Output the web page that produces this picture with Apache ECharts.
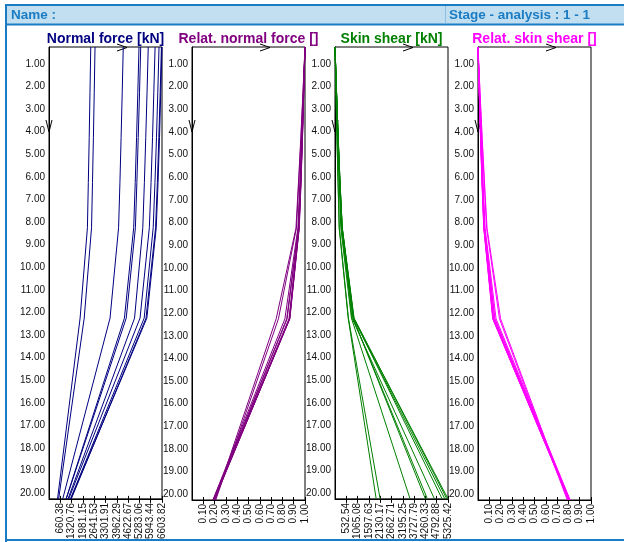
<!DOCTYPE html>
<html>
<head>
<meta charset="utf-8">
<script src="https://cdn.jsdelivr.net/npm/echarts@6/dist/echarts.min.js"></script>
<style>
html, body { margin: 0; padding: 0; background: #fff; }
#chart { width: 624px; height: 542px; }
</style>
</head>
<body>
<div id="chart"></div>
<script>
// Depth nodes along the piles [m]
const depths = [0.25, 2.25, 4.25, 6.25, 8.25, 12.25, 20.25];
const depthLabels = [1, 2, 3, 4, 5, 6, 7, 8, 9, 10, 11, 12, 13, 14, 15, 16, 17, 18, 19, 20];

// Normal force per pile [kN]
const normalForce = [
  [2440, 2396, 2350, 2298, 2245, 1818, 500],
  [2690, 2644, 2596, 2542, 2486, 2058, 565],
  [4340, 4279, 4214, 4145, 4067, 3567, 803],
  [5260, 5192, 5118, 5039, 4950, 4408, 999],
  [5360, 5290, 5215, 5135, 5049, 4513, 1008],
  [5800, 5730, 5655, 5574, 5481, 5000, 1114],
  [6200, 6126, 6051, 5964, 5865, 5320, 1153],
  [6430, 6359, 6282, 6192, 6089, 5562, 1254],
  [6570, 6498, 6419, 6333, 6228, 5670, 1301],
  [6603.82, 6531, 6459, 6373, 6267, 5719, 1278]
];

// Relative normal force per pile []
const relNormalForce = [
  [1, 0.982, 0.963, 0.942, 0.920, 0.745, 0.205],
  [1, 0.983, 0.965, 0.945, 0.924, 0.765, 0.210],
  [1, 0.986, 0.971, 0.955, 0.937, 0.822, 0.185],
  [1, 0.987, 0.973, 0.958, 0.941, 0.838, 0.190],
  [1, 0.987, 0.973, 0.958, 0.942, 0.842, 0.188],
  [1, 0.988, 0.975, 0.961, 0.945, 0.862, 0.192],
  [1, 0.988, 0.976, 0.962, 0.946, 0.858, 0.186],
  [1, 0.989, 0.977, 0.963, 0.947, 0.865, 0.195],
  [1, 0.989, 0.977, 0.964, 0.948, 0.863, 0.198],
  [1, 0.989, 0.978, 0.965, 0.949, 0.866, 0.194]
];

// Skin shear per pile [kN]
const skinShear = [
  [0, 44, 90, 142, 195, 622, 1940],
  [0, 46, 94, 148, 204, 632, 2125],
  [0, 61, 126, 195, 273, 773, 3537],
  [0, 68, 142, 221, 310, 852, 4261],
  [0, 70, 145, 225, 311, 847, 4352],
  [0, 70, 145, 226, 319, 800, 4686],
  [0, 74, 149, 236, 335, 880, 5047],
  [0, 71, 148, 238, 341, 868, 5176],
  [0, 72, 151, 237, 342, 900, 5269],
  [0, 73, 145, 231, 337, 885, 5325.42]
];

// Relative skin shear per pile []
const relSkinShear = [
  [0, 0.018, 0.037, 0.058, 0.080, 0.200, 0.795],
  [0, 0.017, 0.035, 0.055, 0.076, 0.190, 0.790],
  [0, 0.014, 0.029, 0.045, 0.063, 0.160, 0.815],
  [0, 0.013, 0.027, 0.042, 0.059, 0.150, 0.810],
  [0, 0.013, 0.027, 0.042, 0.058, 0.148, 0.812],
  [0, 0.012, 0.025, 0.039, 0.055, 0.135, 0.808],
  [0, 0.012, 0.024, 0.038, 0.054, 0.140, 0.814],
  [0, 0.011, 0.023, 0.037, 0.053, 0.132, 0.805],
  [0, 0.011, 0.023, 0.036, 0.052, 0.134, 0.802],
  [0, 0.011, 0.022, 0.035, 0.051, 0.130, 0.806]
];

// Bottom axis tick labels
const normalForceTicks = [660.38, 1320.76, 1981.15, 2641.53, 3301.91, 3962.29, 4622.67, 5283.06, 5943.44, 6603.82];
const relativeTicks = [0.10, 0.20, 0.30, 0.40, 0.50, 0.60, 0.70, 0.80, 0.90, 1.00];
const skinShearTicks = [532.54, 1065.08, 1597.63, 2130.17, 2662.71, 3195.25, 3727.79, 4260.33, 4792.88, 5325.42];

const panelTitles = ['Normal force [kN]', 'Relat. normal force []', 'Skin shear [kN]', 'Relat. skin shear []'];
const headerLeft = 'Name :';
const headerRight = 'Stage - analysis : 1 - 1';

// ---- layout ----
const FONT = '"Liberation Sans", Arial, sans-serif';
const panelLeft = [49, 192, 335, 478];
const panelWidth = 113;
const plotTop = 47;
const plotHeight = 453;
const panelColors = ['#000080', '#800080', '#008000', '#ff00ff'];
const panelValues = [normalForce, relNormalForce, skinShear, relSkinShear];
const panelTicks = [normalForceTicks, relativeTicks, skinShearTicks, relativeTicks];
const frameBlue = '#1a7dc4';

const grids = [], xAxes = [], yAxes = [], titles = [], series = [];

panelLeft.forEach((left, p) => {
  const ticks = panelTicks[p];
  const axisMax = ticks[ticks.length - 1];
  grids.push({ left: left, top: plotTop, width: panelWidth, height: plotHeight,
    show: true, borderColor: '#000', borderWidth: 1, backgroundColor: 'transparent' });

  xAxes.push({
    gridIndex: p, type: 'value', position: 'bottom', min: 0, max: axisMax,
    axisLine: { show: true, onZero: false, lineStyle: { color: '#000', width: 1 } },
    axisTick: { show: true, customValues: ticks, length: 4, lineStyle: { color: '#000' } },
    axisLabel: { customValues: ticks, rotate: 90, margin: 4, fontSize: 10, fontFamily: FONT,
      color: '#111', padding: [6, 0, 0, 0], formatter: v => Number(v).toFixed(2) },
    splitLine: { show: false }
  });
  xAxes.push({
    gridIndex: p, type: 'value', position: 'bottom', min: 0, max: axisMax,
    axisLine: { show: false },
    axisTick: { show: true, inside: true, customValues: ticks, length: 3, lineStyle: { color: '#000' } },
    axisLabel: { show: false },
    splitLine: { show: false }
  });

  yAxes.push({
    gridIndex: p, type: 'value', inverse: true, min: 0.25, max: 20.25,
    axisLine: { show: true, onZero: false, lineStyle: { color: '#000', width: 1 } },
    axisTick: { show: false },
    axisLabel: { customValues: depthLabels, margin: 4, fontSize: 10, fontFamily: FONT,
      color: '#111', formatter: v => Number(v).toFixed(2) },
    splitLine: { show: false }
  });

  titles.push({
    text: panelTitles[p], left: left + panelWidth / 2, top: 32, textAlign: 'center', padding: 0,
    textStyle: { fontSize: 14, fontWeight: 'bold', fontFamily: FONT, color: panelColors[p] }
  });

  panelValues[p].forEach(vals => {
    series.push({
      type: 'line', xAxisIndex: 2 * p, yAxisIndex: p,
      data: depths.map((d, k) => [vals[k], d]),
      symbol: 'none', clip: false, silent: true, animation: false,
      lineStyle: { color: panelColors[p], width: 1 }
    });
  });
});

// Direction arrows on the top and left edge of every plot box
const arrowGraphics = [];
panelLeft.forEach(left => {
  arrowGraphics.push({ type: 'polyline', silent: true,
    shape: { points: [[left + 68, 44], [left + 78, 47.5], [left + 68, 51]] },
    style: { stroke: '#000', lineWidth: 1, fill: null } });
  arrowGraphics.push({ type: 'polyline', silent: true,
    shape: { points: [[left - 3, 120], [left, 132], [left + 3, 120]] },
    style: { stroke: '#000', lineWidth: 1, fill: null } });
});

const chart = echarts.init(document.getElementById('chart'), null, { renderer: 'canvas' });
chart.setOption({
  animation: false,
  backgroundColor: '#fff',
  title: titles,
  grid: grids,
  xAxis: xAxes,
  yAxis: yAxes,
  series: series,
  graphic: [
    // header band and frame
    { type: 'rect', silent: true, shape: { x: 6, y: 5, width: 620, height: 19 }, style: { fill: '#c2dff1' } },
    { type: 'line', silent: true, shape: { x1: 5, y1: 5, x2: 624, y2: 5 }, style: { stroke: frameBlue, lineWidth: 2 } },
    { type: 'line', silent: true, shape: { x1: 5, y1: 24.5, x2: 624, y2: 24.5 }, style: { stroke: frameBlue, lineWidth: 2 } },
    { type: 'line', silent: true, shape: { x1: 6, y1: 4, x2: 6, y2: 542 }, style: { stroke: frameBlue, lineWidth: 2 } },
    { type: 'line', silent: true, shape: { x1: 5, y1: 540, x2: 624, y2: 540 }, style: { stroke: frameBlue, lineWidth: 2 } },
    { type: 'line', silent: true, shape: { x1: 445.5, y1: 6, x2: 445.5, y2: 23.5 }, style: { stroke: '#8cbfe2', lineWidth: 1 } },
    { type: 'text', silent: true, x: 11, y: 15, style: { text: headerLeft, fill: '#1b7cc3',
      font: 'bold 13.5px ' + FONT, verticalAlign: 'middle' } },
    { type: 'text', silent: true, x: 449, y: 15, style: { text: headerRight, fill: '#1b7cc3',
      font: 'bold 13.5px ' + FONT, verticalAlign: 'middle' } }
  ].concat(arrowGraphics)
});
</script>
</body>
</html>
